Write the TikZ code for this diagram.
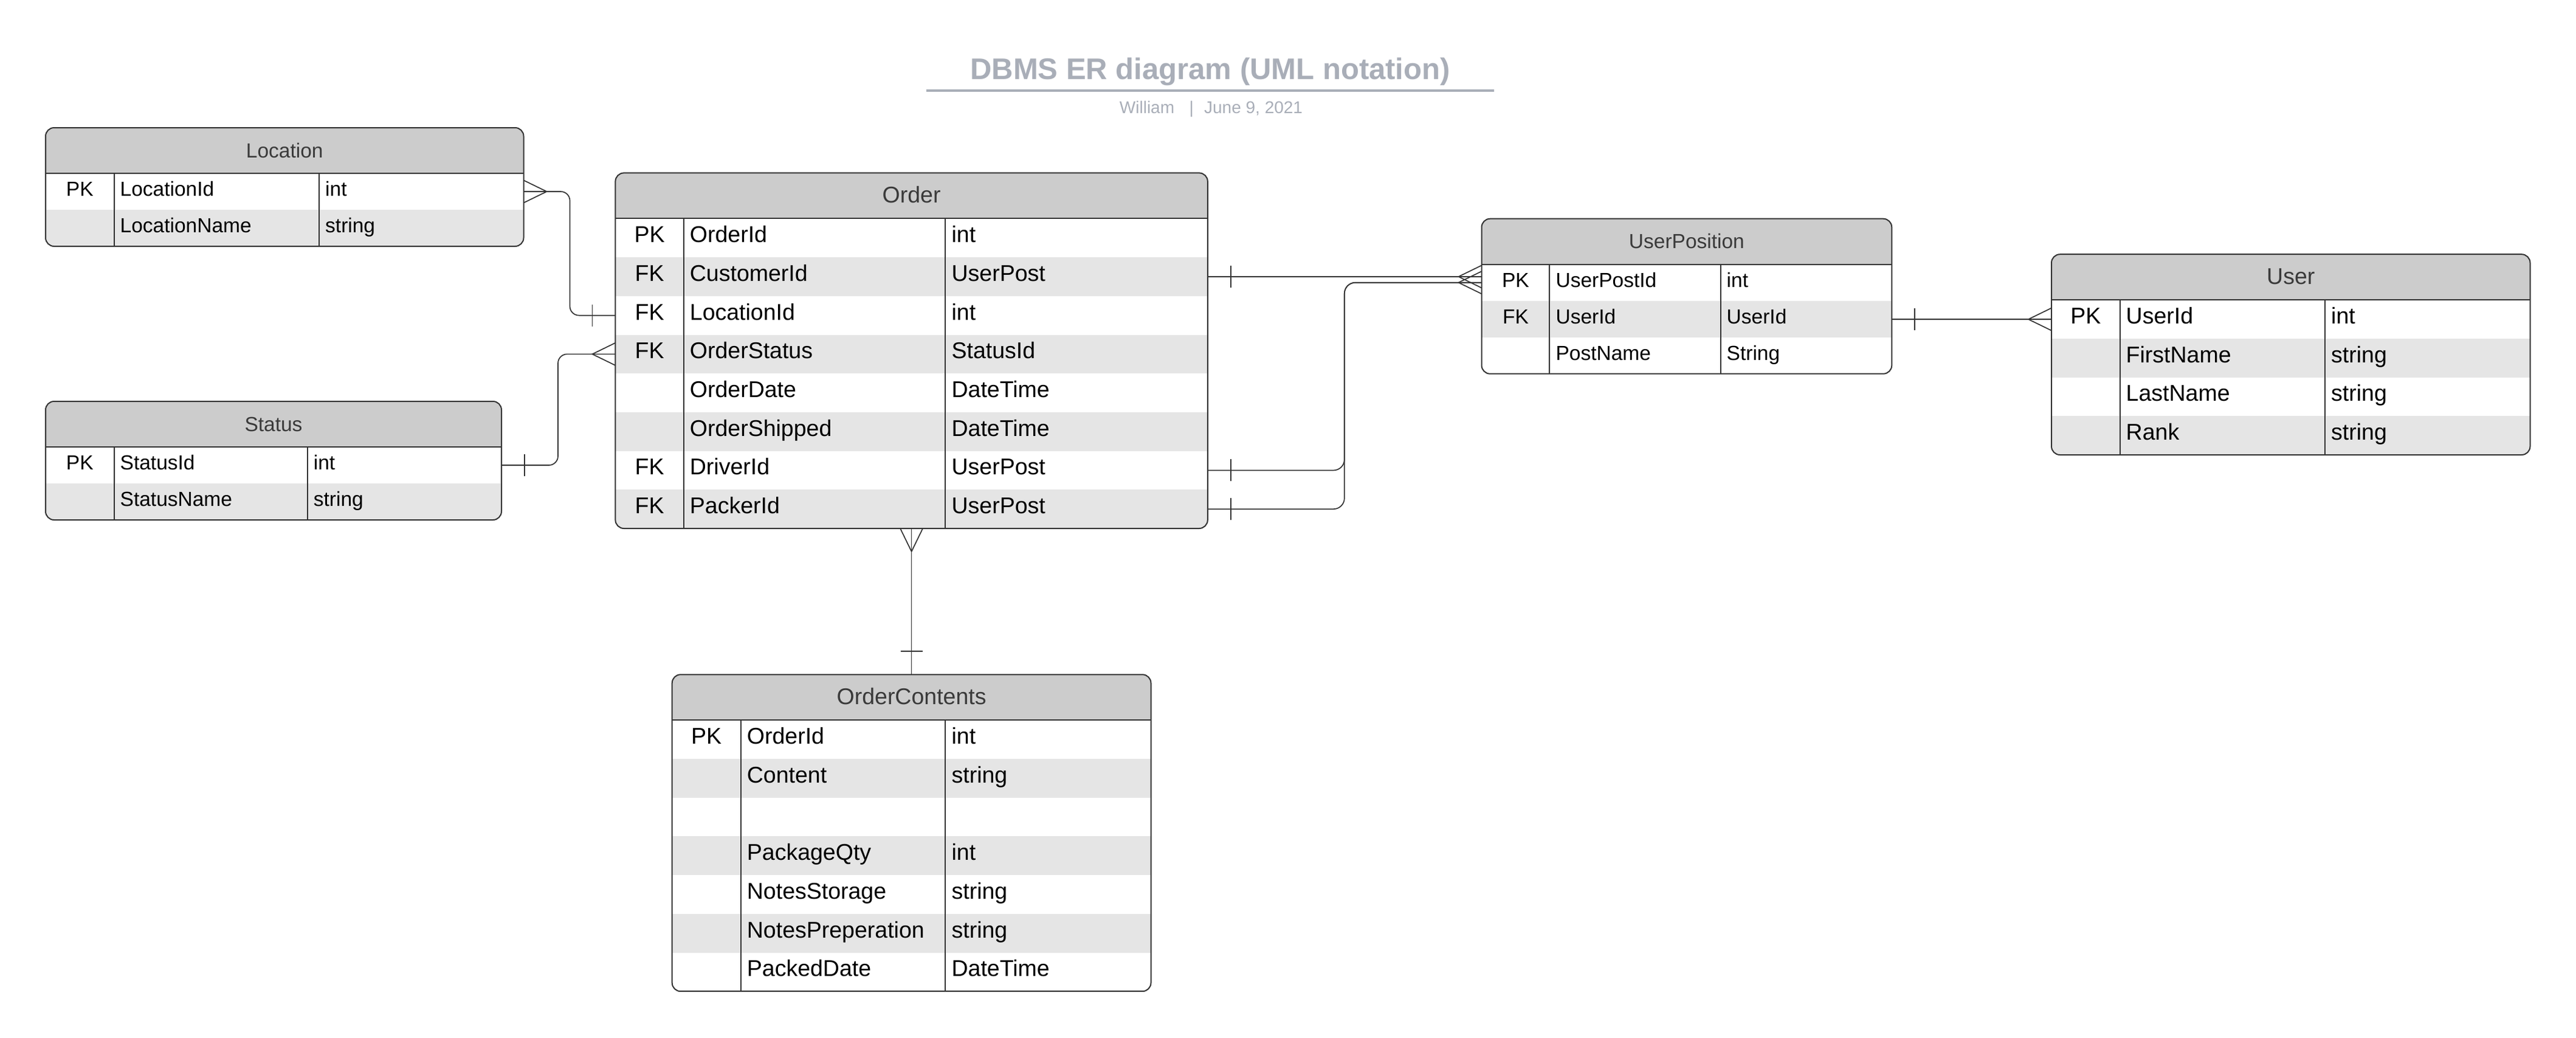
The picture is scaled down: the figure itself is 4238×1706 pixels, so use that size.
\documentclass[tikz,border=0pt]{standalone}
\usepackage{fontspec}
\setmainfont{Liberation Sans}
\usepackage{color}

\definecolor{headgray}{HTML}{CCCCCC}
\definecolor{rowgray}{HTML}{E5E5E5}
\definecolor{linegray}{HTML}{333333}
\definecolor{headtext}{HTML}{3A3A3A}
\definecolor{titlegray}{HTML}{A9AEB8}

\tikzset{
  erline/.style={draw=linegray, line width=2pt},
  conn/.style={draw=linegray, line width=1.7pt},
  pics/crowfoot/.style={code={\draw[conn] (0,-18.5) -- (38,0) -- (0,18.5);}},
  pics/onebar/.style={code={\draw[conn] (38,-18) -- (38,18);}},
}

% #1 name, #2 corner, #3 width, #4 key column, #5 field column,
% #6 row height, #7 font size, #8 title, #9 rows
\newcommand{\erTable}[9]{%
  \foreach \ky/\fld/\typ [count=\n] in {#9} {\xdef\erRows{\n}}%
  \pgfmathsetmacro\erH{75+\erRows*#6}%
  \node[inner sep=0, outer sep=0, minimum width=#3pt, minimum height=\erH pt, anchor=north west] (#1) at #2 {};
  \begin{scope}
    \clip[rounded corners=14pt] (#1.north west) rectangle (#1.south east);
    \fill[headgray] (#1.north west) rectangle ([yshift=-75pt]#1.north east);
    \foreach \ky/\fld/\typ [count=\i] in {#9} {
      \ifodd\i \def\rowfill{white}\else \def\rowfill{rowgray}\fi
      \node[fill=\rowfill, inner sep=0, outer sep=0, minimum width=#3pt, minimum height=#6pt, anchor=north west]
        (#1-\i) at ([yshift={-(75+(\i-1)*#6)*1pt}]#1.north west) {};
      \node[anchor=base, font=\fontsize{#7}{#7}\selectfont] (#1-\i-k)
        at ([xshift={(#4/2)*1pt}, yshift=-7.5pt]#1-\i.west) {\ky};
      \node[anchor=base west, inner sep=0, font=\fontsize{#7}{#7}\selectfont] (#1-\i-f)
        at ([xshift={(#4+10)*1pt}, yshift=-7.5pt]#1-\i.west) {\fld};
      \node[anchor=base west, inner sep=0, font=\fontsize{#7}{#7}\selectfont] (#1-\i-t)
        at ([xshift={(#4+#5+10)*1pt}, yshift=-7.5pt]#1-\i.west) {\typ};
    }
  \end{scope}
  \node[anchor=base, text=headtext, font=\fontsize{#7}{#7}\selectfont] (#1-title) at ([yshift=-49pt]#1.north) {#8};
  \draw[erline] ([yshift=-75pt]#1.north west) -- ([yshift=-75pt]#1.north east);
  \draw[erline] ([xshift=#4pt, yshift=-75pt]#1.north west) -- ([xshift=#4pt]#1.south west);
  \draw[erline] ([xshift={(#4+#5)*1pt}, yshift=-75pt]#1.north west) -- ([xshift={(#4+#5)*1pt}]#1.south west);
  \draw[erline, rounded corners=14pt] (#1.north west) rectangle (#1.south east);
}

\begin{document}
\begin{tikzpicture}[x=1pt, y=-1pt]
  \useasboundingbox (0,0) rectangle (4238,1706);

  \node[anchor=base, text=titlegray, font=\bfseries\fontsize{49}{49}\selectfont] (title) at (1991,130) {DBMS ER diagram (UML notation)};
  \draw[titlegray, line width=3.3pt] (1524,149) -- (2458,149);
  \node[anchor=base west, inner sep=0, text=titlegray, font=\fontsize{28}{28}\selectfont] (byline) at (1841.7,186.7) {William\hspace{24.5pt}|\hspace{17.3pt}June 9, 2021};

  \erTable{loc}{(75,210)}{786.5}{112.5}{337.5}{60}{33.5}{Location}
    {PK/LocationId/int, /LocationName/string}
  \erTable{stat}{(75,660)}{750}{112.5}{318.2}{60}{33.5}{Status}
    {PK/StatusId/int, /StatusName/string}
  \erTable{ord}{(1012.4,284.4)}{974.4}{112.3}{430.7}{63.7}{37.5}{Order}
    {PK/OrderId/int, FK/CustomerId/UserPost, FK/LocationId/int, FK/OrderStatus/StatusId,
     /OrderDate/DateTime, /OrderShipped/DateTime, FK/DriverId/UserPost, FK/PackerId/UserPost}
  \erTable{cont}{(1105.7,1109.3)}{787.8}{113}{336.7}{63.7}{37.5}{OrderContents}
    {PK/OrderId/int, /Content/string, //, /PackageQty/int, /NotesStorage/string,
     /NotesPreperation/string, /PackedDate/DateTime}
  \erTable{upos}{(2437.5,359.7)}{674.8}{111.9}{281.1}{60}{33.5}{UserPosition}
    {PK/UserPostId/int, FK/UserId/UserId, /PostName/String}
  \erTable{usr}{(3375,418.2)}{787.5}{112.5}{337.5}{63.7}{37.5}{User}
    {PK/UserId/int, /FirstName/string, /LastName/string, /Rank/string}

  \draw[conn, rounded corners=15pt] (loc-1.east) -- ++(76,0) |- (ord-3.west);
  \draw[conn, rounded corners=15pt] (stat-1.east) -- ++(93,0) |- (ord-4.west);
  \draw[conn] (ord-2.east) -- (ord-2.east -| upos-1.west);
  \draw[conn, rounded corners=18pt] (ord-7.east) -- ++(225,0) |- (upos-1.west);
  \draw[conn, rounded corners=18pt] (ord-8.east) -- ++(225,0) |- (upos-1.west);
  \draw[conn] (upos-2.east) -- (upos-2.east -| usr-1.west);
  \draw[conn] (ord.south) -- (cont.north);

  \pic at (loc-1.east) {crowfoot};
  \pic[rotate=180] at (ord-3.west) {onebar};
  \pic at (stat-1.east) {onebar};
  \pic[rotate=180] at (ord-4.west) {crowfoot};
  \pic at (ord-2.east) {onebar};
  \pic[rotate=180] at (ord-2.east -| upos-1.west) {crowfoot};
  \pic at (ord-7.east) {onebar};
  \pic at (ord-8.east) {onebar};
  \pic[rotate=180] at (upos-1.west) {crowfoot};
  \pic at (upos-2.east) {onebar};
  \pic[rotate=180] at (usr-1.west) {crowfoot};
  \pic[rotate=-90] at (ord.south) {crowfoot};
  \pic[rotate=90] at (cont.north) {onebar};
\end{tikzpicture}
\end{document}
